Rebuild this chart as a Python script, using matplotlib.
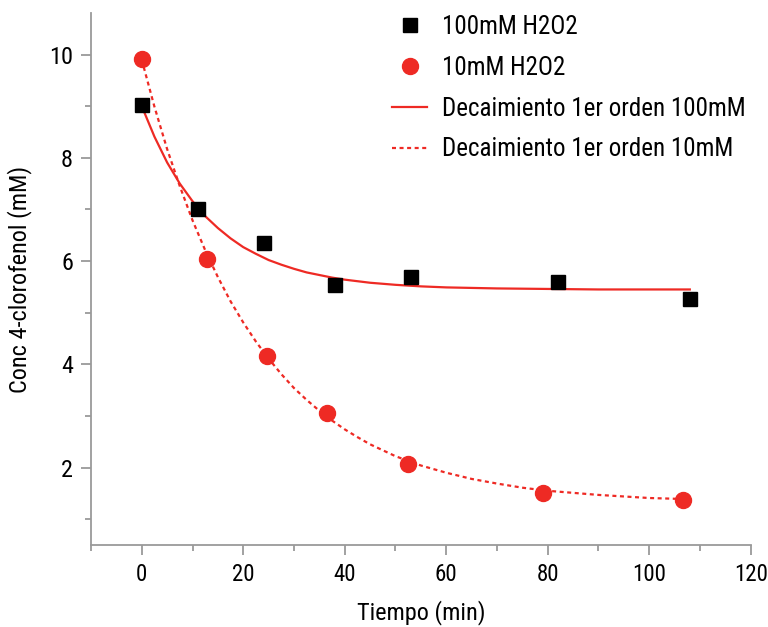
import matplotlib
matplotlib.use('Agg')
import matplotlib.pyplot as plt
from matplotlib.ticker import MultipleLocator

plt.rcParams['font.family'] = ['Roboto Condensed', 'Liberation Sans', 'DejaVu Sans']

# Measured points
t_100 = [0, 11, 24, 38, 53, 82, 108]
c_100 = [9.02, 7.0, 6.35, 5.53, 5.70, 5.60, 5.26]
t_10 = [0, 12.9, 24.7, 36.6, 52.4, 79, 106.7]
c_10 = [9.92, 6.04, 4.16, 3.05, 2.06, 1.51, 1.38]

# First-order decay curves
fit_t_100 = [0, 2.5, 5, 7.5, 10, 12.5, 15, 17.5, 20, 22.5, 25, 27.5, 30, 32.5, 35, 37.5, 40,
             45, 50, 55, 60, 70, 80, 90, 100, 108]
fit_c_100 = [9.00, 8.41, 7.91, 7.50, 7.16, 6.87, 6.64, 6.44, 6.27, 6.14, 6.02, 5.93, 5.85,
             5.78, 5.73, 5.68, 5.64, 5.58, 5.54, 5.51, 5.49, 5.47, 5.46, 5.45, 5.45, 5.45]
fit_t_10 = [0, 2.5, 5, 7.5, 10, 12.5, 15, 17.5, 20, 22.5, 25, 27.5, 30, 32.5, 35, 37.5, 40,
            42.5, 45, 50, 55, 60, 65, 70, 75, 80, 85, 90, 95, 100, 107]
fit_c_10 = [9.90, 8.99, 8.17, 7.45, 6.79, 6.21, 5.69, 5.22, 4.81, 4.44, 4.11, 3.81, 3.54,
            3.31, 3.10, 2.91, 2.74, 2.59, 2.45, 2.22, 2.04, 1.90, 1.78, 1.69, 1.61, 1.55,
            1.51, 1.47, 1.44, 1.41, 1.39]

red = '#EE2A24'
grey = '#9a9a9a'

fig = plt.figure(figsize=(7.68, 6.27), dpi=100)
ax = fig.add_axes([0.1185, 0.1308, 0.859, 0.848])

ax.plot(t_100, c_100, 's', color='black', markersize=10, label='100mM H2O2', zorder=3)
ax.plot(t_10, c_10, 'o', color=red, markersize=11.5, label='10mM H2O2', zorder=3)
ax.plot(fit_t_100, fit_c_100, '-', color=red, linewidth=1.6, label='Decaimiento 1er orden 100mM')
ax.plot(fit_t_10, fit_c_10, linestyle=(0, (1.8, 1.6)), color=red, linewidth=1.6,
        label='Decaimiento 1er orden 10mM')

ax.set_xlim(-10, 120)
ax.set_ylim(0.5, 10.8)
ax.xaxis.set_major_locator(MultipleLocator(20))
ax.xaxis.set_minor_locator(MultipleLocator(10))
ax.yaxis.set_major_locator(MultipleLocator(2))
ax.yaxis.set_minor_locator(MultipleLocator(1))

for s in ['top', 'right']:
    ax.spines[s].set_visible(False)
for s in ['left', 'bottom']:
    ax.spines[s].set_color(grey)
    ax.spines[s].set_linewidth(1.3)

ax.tick_params(which='major', length=7, width=1.3, color=grey, pad=6)
ax.tick_params(which='minor', length=4, width=1.3, color=grey)
ax.tick_params(axis='x', labelsize=16.5)
ax.tick_params(axis='y', labelsize=17.5)

ax.set_xlabel('Tiempo (min)', fontsize=17.5, labelpad=10)
ax.set_ylabel('Conc 4-clorofenol (mM)', fontsize=17.5, labelpad=12)

fig.legend(loc='upper left', bbox_to_anchor=(392 / 768, 0.976), frameon=False, fontsize=18,
           labelspacing=0.67, handlelength=1.4, handletextpad=0.6, borderpad=0,
           borderaxespad=0)

fig.savefig('out.png', dpi=100)
